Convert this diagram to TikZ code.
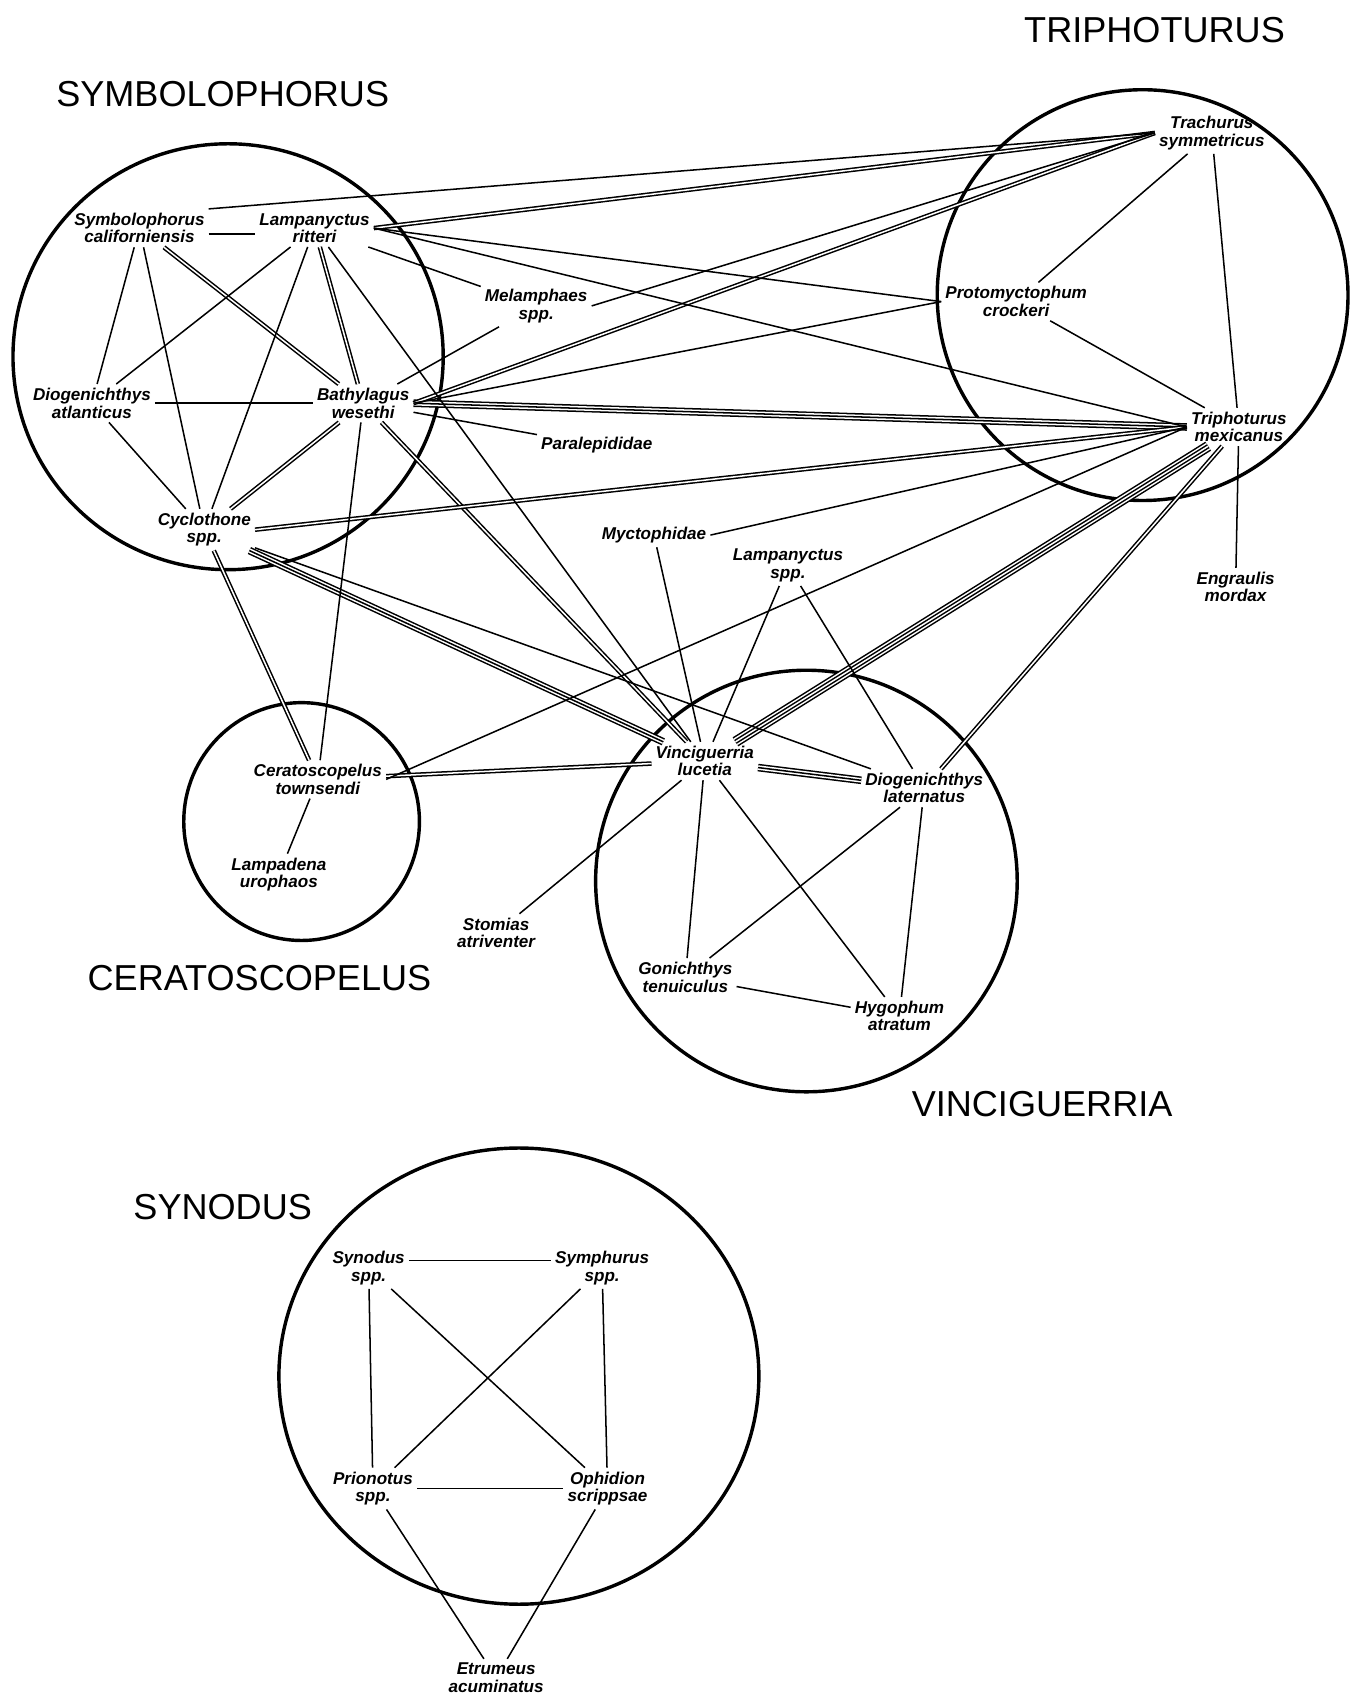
\documentclass[tikz,border=0pt]{standalone}
\usepackage{fontspec}
\setmainfont{Liberation Sans}
\tikzset{
    fish/.style={font=\bfseries\itshape\fontsize{9}{9.2}\selectfont, align=center, inner sep=2pt},
    grouptitle/.style={font=\fontsize{19}{19}\selectfont, inner sep=0pt},
    group/.style={line width=1.8pt},
    link/.style={line width=.8pt},
    band/.style={line width=.8pt, double, double distance=#1},
}
\begin{document}
\begin{tikzpicture}[x=0.02cm, y=-0.02cm]
    \useasboundingbox (0,0) rectangle (1249,1568);
    % Группы
    \draw[group] (211,330) ellipse [x radius=199, y radius=197];
    \draw[group] (1057,273) ellipse [x radius=190, y radius=190];
    \draw[group] (279,760) ellipse [x radius=109, y radius=110];
    \draw[group] (746,815) ellipse [x radius=195, y radius=195];
    \draw[group] (480,1273) ellipse [x radius=222, y radius=211];

    \node[grouptitle] (tsymb) at (206,87) {SYMBOLOPHORUS};
    \node[grouptitle] (ttriph) at (1068,28) {TRIPHOTURUS};
    \node[grouptitle] (tcerat) at (240,905) {CERATOSCOPELUS};
    \node[grouptitle] (tvinc) at (964,1021) {VINCIGUERRIA};
    \node[grouptitle] (tsynod) at (206,1117) {SYNODUS};

    % Виды
    \node[fish] (symcal) at (129,211) {Symbolophorus\\californiensis};
    \node[fish] (lamrit) at (291,211) {Lampanyctus\\ritteri};
    \node[fish] (dioatl) at (85,373) {Diogenichthys\\atlanticus};
    \node[fish] (batwes) at (336,373) {Bathylagus\\wesethi};
    \node[fish] (cyclo) at (189,490) {Cyclothone\\spp.};
    \node[fish] (melam) at (496,283) {Melamphaes\\spp.};
    \node[fish] (paral) at (552,412) {Paralepididae};
    \node[fish] (myct) at (605,495) {Myctophidae};
    \node[fish] (lamspp) at (729,523) {Lampanyctus\\spp.};
    \node[fish] (trach) at (1121,123) {Trachurus\\symmetricus};
    \node[fish] (proto) at (940,279) {Protomyctophum\\crockeri};
    \node[fish] (trimex) at (1146,395) {Triphoturus\\mexicanus};
    \node[fish] (engr) at (1143,543) {Engraulis\\mordax};
    \node[fish] (certow) at (294,721) {Ceratoscopelus\\townsendi};
    \node[fish] (lampad) at (258,809) {Lampadena\\urophaos};
    \node[fish] (vinluc) at (652,704) {Vinciguerria\\lucetia};
    \node[fish] (diolat) at (855,729) {Diogenichthys\\laternatus};
    \node[fish] (stom) at (459,863) {Stomias\\atriventer};
    \node[fish] (gonich) at (634,904) {Gonichthys\\tenuiculus};
    \node[fish] (hygo) at (832,940) {Hygophum\\atratum};
    \node[fish] (synod) at (341,1173) {Synodus\\spp.};
    \node[fish] (symph) at (557,1173) {Symphurus\\spp.};
    \node[fish] (prion) at (345,1377) {Prionotus\\spp.};
    \node[fish] (ophid) at (562,1377) {Ophidion\\scrippsae};
    \node[fish] (etrum) at (459,1552) {Etrumeus\\acuminatus};

    % Четверная связь
    \draw[band=4pt] (vinluc) -- (trimex);
    \draw[band=.8pt] (vinluc) -- (trimex);
    % Тройные связи
    \draw[band=2.4pt] (batwes.east) -- (trimex.west);
    \draw[link] (batwes.east) -- (trimex.west);
    \draw[band=2.4pt] (cyclo) -- (vinluc);
    \draw[link] (cyclo) -- (vinluc);
    \draw[band=2.4pt] (vinluc) -- (diolat);
    \draw[link] (vinluc) -- (diolat);
    % Двойные связи
    \draw[band=.8pt] (symcal) -- (batwes);
    \draw[band=.8pt] (lamrit) -- (batwes);
    \draw[band=.8pt] (batwes) -- (cyclo);
    \draw[band=.8pt] (lamrit.east) -- (trach.west);
    \draw[band=.8pt] (batwes.east) -- (trach.west);
    \draw[band=.8pt] (batwes) -- (vinluc);
    \draw[band=.8pt] (cyclo) -- (certow);
    \draw[band=.8pt] (cyclo.east) -- (trimex.west);
    \draw[band=.8pt] (certow) -- (vinluc);
    \draw[band=.8pt] (diolat) -- (trimex);

    % Одинарные связи
    \draw[link] ([yshift=-3pt]symcal.east) -- ([yshift=-3pt]lamrit.west);
    \draw[link] (symcal) -- (dioatl);
    \draw[link] (symcal) -- (cyclo);
    \draw[link] (lamrit) -- (dioatl);
    \draw[link] (lamrit) -- (cyclo);
    \draw[link] (dioatl) -- (batwes);
    \draw[link] (dioatl) -- (cyclo);
    \draw[link] (lamrit) -- (vinluc);
    \draw[link] (lamrit) -- (melam);
    \draw[link] (symcal.north east) -- (trach.west);
    \draw[link] (lamrit.east) -- (proto.west);
    \draw[link] (lamrit.east) -- (trimex.west);
    \draw[link] (batwes) -- (melam);
    \draw[link] (batwes.east) -- (proto.west);
    \draw[link] (batwes) -- (paral);
    \draw[link] (batwes) -- (certow);
    \draw[link] (melam.east) -- (trach.west);
    \draw[link] (cyclo) -- (diolat);
    \draw[link] (myct) -- (vinluc);
    \draw[link] (myct.east) -- (trimex.west);
    \draw[link] (lamspp) -- (vinluc);
    \draw[link] (lamspp) -- (diolat);
    \draw[link] (certow.east) -- (trimex.west);
    \draw[link] (certow) -- (lampad);
    \draw[link] (vinluc) -- (stom);
    \draw[link] (vinluc) -- (gonich);
    \draw[link] (vinluc) -- (hygo);
    \draw[link] (diolat) -- (gonich);
    \draw[link] (diolat) -- (hygo);
    \draw[link] (gonich) -- (hygo);
    \draw[link] (trach) -- (proto);
    \draw[link] (trach) -- (trimex);
    \draw[link] (proto) -- (trimex);
    \draw[link] (trimex) -- (engr);

    \draw[link] ([yshift=4pt]synod.east) -- ([yshift=4pt]symph.west);
    \draw[link] (synod) -- (prion);
    \draw[link] (synod) -- (ophid);
    \draw[link] (symph) -- (prion);
    \draw[link] (symph) -- (ophid);
    \draw[link] (prion) -- (ophid);
    \draw[link] (prion) -- (etrum);
    \draw[link] (ophid) -- (etrum);
\end{tikzpicture}
\end{document}
